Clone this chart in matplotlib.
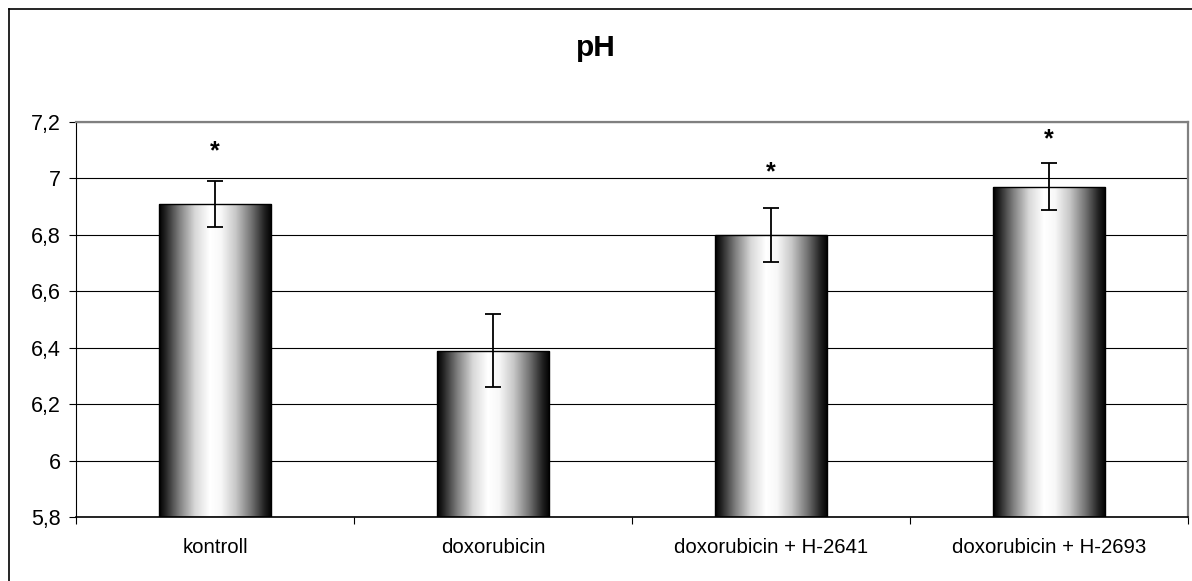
import matplotlib

matplotlib.use("Agg")

import matplotlib.pyplot as plt
import numpy as np
from matplotlib.lines import Line2D
from matplotlib.ticker import FixedLocator, FuncFormatter

CATEGORIES = ["kontroll", "doxorubicin", "doxorubicin + H-2641", "doxorubicin + H-2693"]
PH_MEAN = [6.91, 6.39, 6.80, 6.97]
PH_ERR = [0.081, 0.128, 0.095, 0.083]
STAR_LEVEL = [7.095, None, 7.02, 7.14]
Y_TICKS = [5.8, 6.0, 6.2, 6.4, 6.6, 6.8, 7.0, 7.2]

W, H, DPI = 1192, 581, 100
FONT = ["Liberation Sans", "DejaVu Sans"]


def gradient_image() -> np.ndarray:
    stops = [0.0, 0.06, 0.18, 0.32, 0.45, 0.55, 0.68, 0.82, 0.94, 1.0]
    level = [0.0, 0.15, 0.5, 0.85, 1.0, 0.97, 0.78, 0.45, 0.12, 0.0]
    t = np.linspace(0, 1, 256)
    g = np.interp(t, stops, level)
    return np.tile(g, (2, 1))


def main() -> None:
    plt.rcParams["font.family"] = FONT
    fig = plt.figure(figsize=(W / DPI, H / DPI), dpi=DPI, facecolor="white")
    ax = fig.add_axes([76 / W, (H - 517) / H, 1112 / W, 395 / H])

    x = np.arange(len(CATEGORIES))

    for y in Y_TICKS:
        ax.axhline(y, color="black", lw=0.8, zorder=1)

    bars = ax.bar(x, [m - 5.8 for m in PH_MEAN], bottom=5.8, width=0.405,
                  facecolor="none", edgecolor="black", lw=1.0, zorder=3)
    img = gradient_image()
    for bar in bars:
        x0, y0 = bar.get_x(), bar.get_y()
        im = ax.imshow(img, cmap="gray", vmin=0, vmax=1, aspect="auto",
                       extent=(x0, x0 + bar.get_width(), y0, y0 + bar.get_height()),
                       interpolation="bilinear", zorder=2)
        im.set_clip_path(bar)
    ax.set_xlim(-0.5, len(CATEGORIES) - 0.5)
    ax.set_ylim(5.8, 7.2)

    ax.errorbar(x, PH_MEAN, yerr=PH_ERR, fmt="none", ecolor="black",
                elinewidth=1.3, capsize=5.5, capthick=1.3, zorder=4)

    for xi, star in zip(x, STAR_LEVEL):
        if star is not None:
            ax.text(xi, star, "*", ha="center", va="center", fontsize=18,
                    fontweight="bold", zorder=5)

    ax.yaxis.set_major_locator(FixedLocator(Y_TICKS))
    ax.yaxis.set_major_formatter(FuncFormatter(lambda v, _: f"{v:g}".replace(".", ",")))
    ax.tick_params(axis="y", direction="out", length=5, width=0.8, pad=6, labelsize=15.5)

    ax.set_xticks(x)
    ax.set_xticklabels(CATEGORIES)
    ax.set_xticks(np.arange(len(CATEGORIES) + 1) - 0.5, minor=True)
    ax.tick_params(axis="x", which="major", length=0, pad=15, labelsize=14.7)
    ax.tick_params(axis="x", which="minor", direction="out", length=5, width=0.8)

    ax.spines["left"].set_color("black")
    ax.spines["bottom"].set_color("black")
    ax.spines["bottom"].set_linewidth(1.2)
    ax.spines["top"].set_color("#808080")
    ax.spines["right"].set_color("#808080")
    ax.spines["top"].set_linewidth(1.6)
    ax.spines["right"].set_linewidth(1.6)

    fig.text(0.5, 1 - 48 / H, "pH", ha="center", va="center",
             fontsize=21.5, fontweight="bold")

    fig.add_artist(Line2D([9 / W, 9 / W], [-0.01, 1 - 9 / H], color="black", lw=1.2))
    fig.add_artist(Line2D([9 / W, 1.01], [1 - 9 / H, 1 - 9 / H], color="black", lw=1.2))

    fig.savefig("out.png", dpi=DPI, facecolor="white")
    plt.close(fig)


if __name__ == "__main__":
    main()
